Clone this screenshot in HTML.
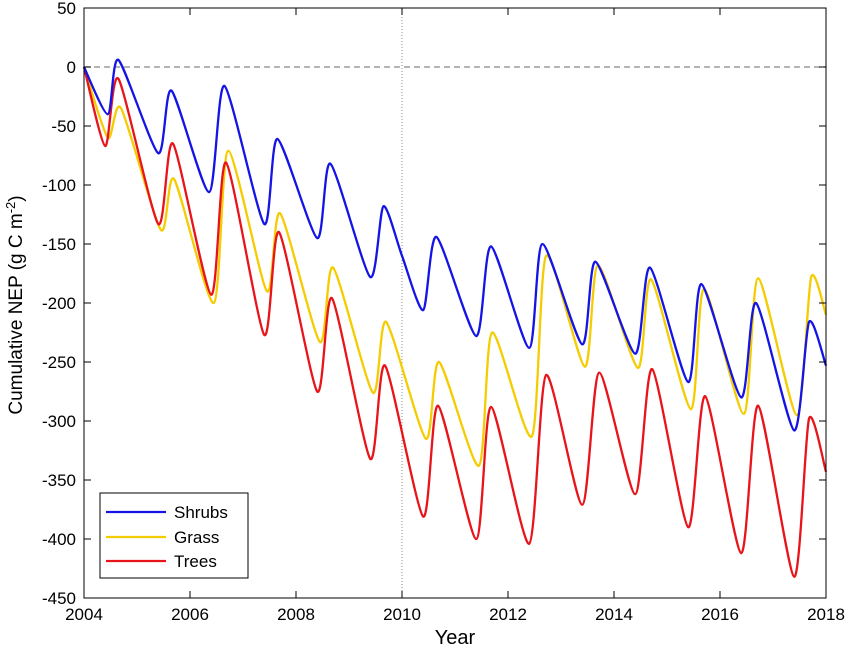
<!DOCTYPE html>
<html><head><meta charset="utf-8"><style>
body{margin:0;background:#fff;}
svg{display:block;font-family:"Liberation Sans",sans-serif;}
</style></head><body>
<svg id="chart" width="850" height="650"></svg>
<script>
const xTicks=[2004,2006,2008,2010,2012,2014,2016,2018];
const yTicks=[50,0,-50,-100,-150,-200,-250,-300,-350,-400,-450];
const shrubYears=[2004,2004.45,2004.65,2005.4,2005.65,2006.36,2006.65,2007.4,2007.65,2008.4,2008.65,2009.4,2009.65,2010,2010.4,2010.65,2011.4,2011.68,2012.4,2012.65,2013.4,2013.65,2014.4,2014.68,2015.4,2015.65,2016.4,2016.68,2017.4,2017.68,2018];
const shrubValues=[0,-40,6,-73,-20,-106,-16,-133,-61,-145,-82,-178,-118,-160,-206,-144,-228,-152,-238,-150,-235,-165,-243,-170,-267,-184,-280,-200,-308,-216,-253];
const grassYears=[2004,2004.45,2004.7,2005.45,2005.7,2006.45,2006.72,2007.45,2007.7,2008.45,2008.7,2009.45,2009.7,2010.45,2010.7,2011.45,2011.7,2012.45,2012.72,2013.45,2013.7,2014.45,2014.7,2015.45,2015.7,2016.45,2016.72,2017.45,2017.72,2018];
const grassValues=[0,-60,-35,-138,-95,-200,-71,-190,-124,-233,-170,-276,-216,-315,-250,-338,-225,-313,-160,-254,-168,-255,-180,-290,-188,-294,-179,-295,-178,-210];
const treeYears=[2004,2004.4,2004.65,2005.4,2005.68,2006.4,2006.68,2007.4,2007.68,2008.4,2008.68,2009.4,2009.68,2010.4,2010.68,2011.4,2011.68,2012.4,2012.72,2013.4,2013.72,2014.4,2014.72,2015.4,2015.72,2016.4,2016.72,2017.4,2017.68,2018];
const treeValues=[0,-67,-10,-133,-65,-193,-81,-227,-140,-275,-196,-332,-253,-381,-287,-400,-288,-404,-261,-371,-259,-362,-256,-390,-279,-412,-287,-432,-298,-343];
const L=84,R=826,T=8,B=598;
const xs=y=>L+(y-2004)/14*(R-L);
const ys=v=>T+(50-v)/500*(B-T);
const svg=document.getElementById('chart');
const NS='http://www.w3.org/2000/svg';
function mk(tag,attrs,parent){const e=document.createElementNS(NS,tag);for(const k in attrs)e.setAttribute(k,attrs[k]);(parent||svg).appendChild(e);return e;}
function path(years,vals){const p=years.map((y,i)=>[xs(y),ys(vals[i])]);let d='M'+p[0][0]+','+p[0][1];
for(let i=0;i<p.length-1;i++){const p0=p[Math.max(0,i-1)],p1=p[i],p2=p[i+1],p3=p[Math.min(p.length-1,i+2)];const t=0.12;
d+=` C${p1[0]+(p2[0]-p0[0])*t},${p1[1]+(p2[1]-p0[1])*t} ${p2[0]-(p3[0]-p1[0])*t},${p2[1]-(p3[1]-p1[1])*t} ${p2[0]},${p2[1]}`;}return d;}
let e;
e=mk('line',{x1:L,x2:R,y1:ys(0),y2:ys(0),stroke:'#888','stroke-dasharray':'6,4','stroke-width':1.2});

e=mk('line',{x1:xs(2010),x2:xs(2010),y1:T,y2:B,stroke:'#888','stroke-dasharray':'1,2','stroke-width':1});

const series=[[grassYears,grassValues,'#f5cc00','grass-line'],[treeYears,treeValues,'#e8141a','trees-line'],[shrubYears,shrubValues,'#1414e6','shrubs-line']];
series.forEach(s=>{e=mk('path',{d:path(s[0],s[1]),fill:'none',stroke:s[2],'stroke-width':2.3});
});
e=mk('rect',{x:L,y:T,width:R-L,height:B-T,fill:'none',stroke:'#000','stroke-width':1});

xTicks.forEach(t=>{const x=xs(t);mk('line',{x1:x,x2:x,y1:B,y2:B-7,stroke:'#000'});mk('line',{x1:x,x2:x,y1:T,y2:T+7,stroke:'#000'});
e=mk('text',{x:x,y:B+22,'text-anchor':'middle','font-size':17});e.textContent=t;
});
yTicks.forEach(t=>{const y=ys(t);mk('line',{x1:L,x2:L+7,y1:y,y2:y,stroke:'#000'});mk('line',{x1:R,x2:R-7,y1:y,y2:y,stroke:'#000'});
e=mk('text',{x:L-8,y:y+6,'text-anchor':'end','font-size':17});e.textContent=t;
});
e=mk('text',{x:455,y:644,'text-anchor':'middle','font-size':20});e.textContent='Year';

e=mk('text',{transform:'translate(22,305) rotate(-90)','text-anchor':'middle','font-size':19});
e.innerHTML='Cumulative NEP (g C m<tspan dy="-7" font-size="13">-2</tspan><tspan dy="7">)</tspan>';

const lg=mk('g',{});
mk('rect',{x:100,y:493,width:148,height:85,fill:'#fff',stroke:'#000'},lg);
[['Shrubs','#1414e6',512],['Grass','#f5cc00',537],['Trees','#e8141a',561]].forEach(r=>{
const g=mk('g',{},lg);
mk('line',{x1:106,x2:166,y1:r[2],y2:r[2],stroke:r[1],'stroke-width':2.3},g);
const t=mk('text',{x:174,y:r[2]+6,'font-size':17},g);t.textContent=r[0];});
</script>
</body></html>
